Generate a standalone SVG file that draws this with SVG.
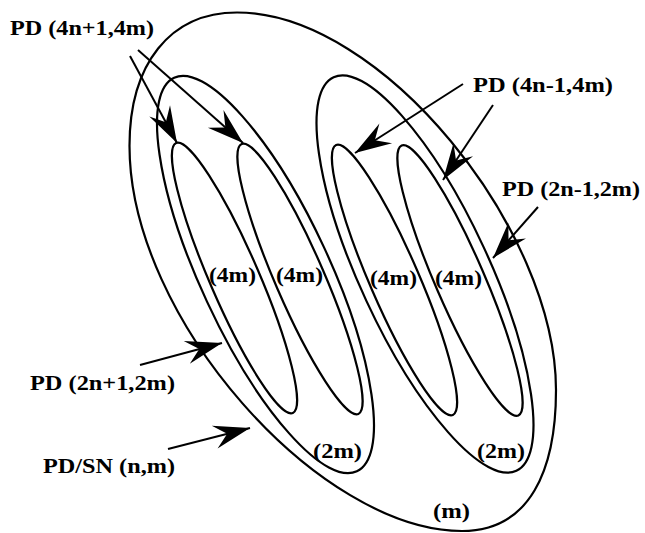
<svg xmlns="http://www.w3.org/2000/svg" width="645" height="533" viewBox="0 0 645 533">
<defs>
<style>
.sh{fill:none;stroke:#000;stroke-width:2.2}
.ln{fill:none;stroke:#000;stroke-width:2}
.t{font-family:"Liberation Serif","Times New Roman",serif;font-weight:bold;font-size:22px;fill:#000}
</style>
<marker id="ah" markerUnits="userSpaceOnUse" markerWidth="40" markerHeight="30" viewBox="-32 -12 34 24" refX="0" refY="0" orient="auto">
<path d="M0,0 L-31,-10 L-20,0 L-31,10 Z" fill="#000"/>
</marker>
</defs>
<rect width="645" height="533" fill="#fff"/>
<g id="outer"><path class="sh" d="M237,12.5 C382,12.5 556,230 556,390 C556,470 530,531 462,531 C320,531 129.5,319 129.5,146 C129.5,64 170,12.5 237,12.5 Z"/><text class="t" x="433" y="518" textLength="37" lengthAdjust="spacingAndGlyphs">(m)</text></g>
<g id="r2m-left"><ellipse class="sh" cx="265.5" cy="274.5" rx="217" ry="64.5" transform="rotate(65.1 265.5 274.5)"/><text class="t" x="313" y="458" textLength="49" lengthAdjust="spacingAndGlyphs">(2m)</text></g>
<g id="r2m-right"><ellipse class="sh" cx="425" cy="274" rx="217" ry="64.5" transform="rotate(65.1 425 274)"/><text class="t" x="477" y="458" textLength="48" lengthAdjust="spacingAndGlyphs">(2m)</text></g>
<g id="r4m-1"><ellipse class="sh" cx="234.5" cy="278" rx="147" ry="24.6" transform="rotate(66.6 234.5 278)"/><text class="t" x="209" y="282" textLength="47" lengthAdjust="spacingAndGlyphs">(4m)</text></g>
<g id="r4m-2"><ellipse class="sh" cx="300" cy="279" rx="147" ry="24.6" transform="rotate(66.6 300 279)"/><text class="t" x="276" y="282" textLength="47" lengthAdjust="spacingAndGlyphs">(4m)</text></g>
<g id="r4m-3"><ellipse class="sh" cx="394.5" cy="280" rx="147" ry="24.6" transform="rotate(66.6 394.5 280)"/><text class="t" x="370" y="285" textLength="47" lengthAdjust="spacingAndGlyphs">(4m)</text></g>
<g id="r4m-4"><ellipse class="sh" cx="460" cy="280.5" rx="147" ry="24.6" transform="rotate(66.6 460 280.5)"/><text class="t" x="435" y="285" textLength="47" lengthAdjust="spacingAndGlyphs">(4m)</text></g>
<g id="label-4n+1"><text class="t" x="10" y="35" textLength="144" lengthAdjust="spacingAndGlyphs">PD (4n+1,4m)</text></g>
<g id="label-4n-1"><text class="t" x="473" y="92" textLength="140" lengthAdjust="spacingAndGlyphs">PD (4n-1,4m)</text></g>
<g id="label-2n-1"><text class="t" x="502" y="196" textLength="138" lengthAdjust="spacingAndGlyphs">PD (2n-1,2m)</text></g>
<g id="label-2n+1"><text class="t" x="30" y="390" textLength="145" lengthAdjust="spacingAndGlyphs">PD (2n+1,2m)</text></g>
<g id="label-n"><text class="t" x="43" y="473" textLength="132" lengthAdjust="spacingAndGlyphs">PD/SN (n,m)</text></g>
<g id="connectors">
<line class="ln" x1="130" y1="56" x2="177" y2="143" marker-end="url(#ah)"/>
<line class="ln" x1="138" y1="50" x2="243" y2="143" marker-end="url(#ah)"/>
<line class="ln" x1="463" y1="84" x2="355" y2="153" marker-end="url(#ah)"/>
<line class="ln" x1="493" y1="105" x2="443" y2="180" marker-end="url(#ah)"/>
<line class="ln" x1="538" y1="207" x2="493" y2="258" marker-end="url(#ah)"/>
<line class="ln" x1="140" y1="365" x2="222" y2="343" marker-end="url(#ah)"/>
<line class="ln" x1="168" y1="449" x2="250" y2="428" marker-end="url(#ah)"/>
</g>
</svg>
